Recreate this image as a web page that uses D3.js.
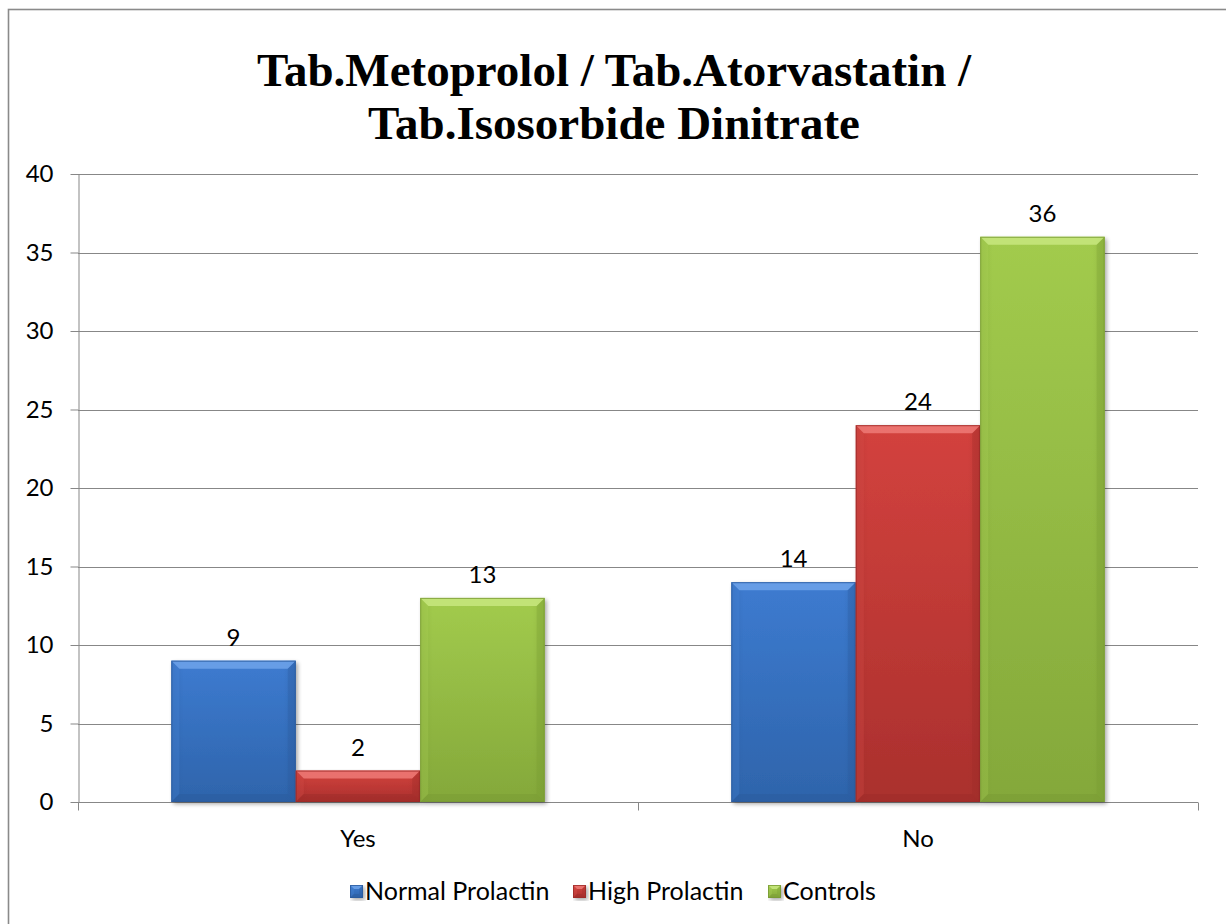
<!DOCTYPE html>
<html>
<head>
<meta charset="utf-8">
<script src="https://cdn.jsdelivr.net/npm/d3@7"></script>
<style>
  html, body { margin: 0; padding: 0; background: #fff; }
  svg { display: block; }
</style>
</head>
<body>
<svg id="chart" width="1226" height="924"></svg>
<script>
// Chart data
const titleLines = ["Tab.Metoprolol / Tab.Atorvastatin /", "Tab.Isosorbide Dinitrate"];
const categories = ["Yes", "No"];
const seriesNames = ["Normal Prolactin", "High Prolactin", "Controls"];
const normalProlactin = [9, 14];
const highProlactin = [2, 24];
const controls = [13, 36];
const yTicks = [0, 5, 10, 15, 20, 25, 30, 35, 40];

const seriesValues = [normalProlactin, highProlactin, controls];
const palette = [
  { top: "#4a8ae0", mid: "#3d7bd0", bot: "#2e64ab", edge: "#2a5a9c", light: "#6fa3ea" },
  { top: "#e05350", mid: "#d3423e", bot: "#aa302d", edge: "#9c2b28", light: "#ee7a77" },
  { top: "#afd65c", mid: "#a2cb4d", bot: "#84a83a", edge: "#789a33", light: "#c8e77f" }
];
const labelFont = "Lato, 'Liberation Sans', sans-serif";
const labelSize = 24;

const svg = d3.select("#chart");
const plot = { left: 78, right: 1198, top: 174, bottom: 802 };

// Outer chart frame
svg.append("rect")
  .attr("x", 8.5).attr("y", 9.5)
  .attr("width", 1400).attr("height", 1100)
  .attr("fill", "none").attr("stroke", "#8a8a8a").attr("stroke-width", 1.6);

// Gradients
const defs = svg.append("defs");
palette.forEach((c, i) => {
  const g = defs.append("linearGradient").attr("id", "grad" + i)
    .attr("x1", 0).attr("y1", 0).attr("x2", 0).attr("y2", 1);
  g.append("stop").attr("offset", "0%").attr("stop-color", c.mid);
  g.append("stop").attr("offset", "100%").attr("stop-color", c.bot);
  const h = defs.append("linearGradient").attr("id", "hgrad" + i)
    .attr("x1", 0).attr("y1", 0).attr("x2", 1).attr("y2", 0);
  h.append("stop").attr("offset", "0%").attr("stop-color", c.edge).attr("stop-opacity", 0.3);
  h.append("stop").attr("offset", "10%").attr("stop-color", c.edge).attr("stop-opacity", 0);
  h.append("stop").attr("offset", "90%").attr("stop-color", c.edge).attr("stop-opacity", 0);
  h.append("stop").attr("offset", "100%").attr("stop-color", c.edge).attr("stop-opacity", 0.3);
});
const shadow = defs.append("filter").attr("id", "shadow")
  .attr("x", "-10%").attr("y", "-10%").attr("width", "130%").attr("height", "130%");
shadow.append("feGaussianBlur").attr("in", "SourceAlpha").attr("stdDeviation", 2).attr("result", "b");
shadow.append("feOffset").attr("in", "b").attr("dx", 2).attr("dy", 2).attr("result", "o");
shadow.append("feComponentTransfer").attr("in", "o").attr("result", "s")
  .append("feFuncA").attr("type", "linear").attr("slope", 0.35);
const merge = shadow.append("feMerge");
merge.append("feMergeNode").attr("in", "s");
merge.append("feMergeNode").attr("in", "SourceGraphic");

// Scales
const x = d3.scaleBand().domain(categories).range([plot.left, plot.right]).padding(0);
const bw = x.bandwidth() / 4.5;
const xs = d3.scaleBand().domain(seriesNames).range([0.75 * bw, 3.75 * bw]).padding(0);
const y = d3.scaleLinear().domain([0, 40]).range([plot.bottom, plot.top]);

// Gridlines
svg.append("g")
  .selectAll("line").data(yTicks.filter(t => t > 0)).join("line")
  .attr("x1", plot.left).attr("x2", plot.right)
  .attr("y1", d => Math.round(y(d)) + 0.5).attr("y2", d => Math.round(y(d)) + 0.5)
  .attr("stroke", "#878787").attr("stroke-width", 1);

// Y axis
const yAxis = svg.append("g")
  .attr("transform", `translate(${plot.left + 0.5},0)`)
  .call(d3.axisLeft(y).tickValues(yTicks).tickSize(8).tickPadding(17).tickSizeOuter(0));
yAxis.select(".domain").attr("stroke", "#878787");
yAxis.selectAll(".tick line").attr("stroke", "#878787");
yAxis.selectAll(".tick text")
  .attr("font-family", labelFont)
  .attr("font-size", labelSize).attr("fill", "#000");

// X axis
const xAxisG = svg.append("g").attr("transform", `translate(0,${Math.round(y(0)) + 0.5})`);
xAxisG.append("line").attr("x1", plot.left).attr("x2", plot.right)
  .attr("stroke", "#878787");
const xTickPositions = [plot.left, ...categories.map(c => x(c) + x.bandwidth())];
xAxisG.selectAll("line.tk").data(xTickPositions).join("line").attr("class", "tk")
  .attr("x1", d => Math.round(d) + 0.5).attr("x2", d => Math.round(d) + 0.5)
  .attr("y1", 0).attr("y2", 8).attr("stroke", "#878787");
xAxisG.selectAll("text").data(categories).join("text")
  .attr("x", d => x(d) + x.bandwidth() / 2).attr("y", 44)
  .attr("text-anchor", "middle")
  .attr("font-family", labelFont)
  .attr("font-size", labelSize).attr("fill", "#000")
  .text(d => d);

// Bars with bevel
function drawBevelBar(g, x0, y0, w, h, i, bev) {
  const c = palette[i];
  const b = Math.min(bev, h / 2, w / 2);
  g.append("rect").attr("x", x0).attr("y", y0).attr("width", w).attr("height", h)
    .attr("fill", `url(#grad${i})`).attr("filter", "url(#shadow)");
  g.append("rect").attr("x", x0).attr("y", y0).attr("width", w).attr("height", h)
    .attr("fill", `url(#hgrad${i})`);
  // top bevel
  g.append("polygon")
    .attr("points", [[x0, y0], [x0 + w, y0], [x0 + w - b, y0 + b], [x0 + b, y0 + b]].join(" "))
    .attr("fill", c.light).attr("opacity", 0.85);
  // left bevel
  g.append("polygon")
    .attr("points", [[x0, y0], [x0 + b, y0 + b], [x0 + b, y0 + h - b], [x0, y0 + h]].join(" "))
    .attr("fill", c.top).attr("opacity", 0.25);
  // right bevel
  g.append("polygon")
    .attr("points", [[x0 + w, y0], [x0 + w - b, y0 + b], [x0 + w - b, y0 + h - b], [x0 + w, y0 + h]].join(" "))
    .attr("fill", c.edge).attr("opacity", 0.3);
  // bottom bevel
  g.append("polygon")
    .attr("points", [[x0, y0 + h], [x0 + b, y0 + h - b], [x0 + w - b, y0 + h - b], [x0 + w, y0 + h]].join(" "))
    .attr("fill", c.edge).attr("opacity", 0.45);
  g.append("rect").attr("x", x0 + 0.5).attr("y", y0 + 0.5).attr("width", w - 1).attr("height", h - 1)
    .attr("fill", "none").attr("stroke", c.edge).attr("stroke-width", 1).attr("opacity", 0.8);
}

const barsG = svg.append("g");
seriesNames.forEach((s, si) => {
  categories.forEach((cat, ci) => {
    const v = seriesValues[si][ci];
    const x0 = x(cat) + xs(s);
    const y0 = y(v);
    drawBevelBar(barsG, x0, y0, xs.bandwidth(), y(0) - y0, si, 8);
    barsG.append("text")
      .attr("x", x0 + xs.bandwidth() / 2).attr("y", y0 - 15)
      .attr("text-anchor", "middle")
      .attr("font-family", labelFont)
      .attr("font-size", labelSize).attr("fill", "#000")
      .text(v);
  });
});

// Title
svg.append("text")
  .attr("x", 614).attr("text-anchor", "middle")
  .attr("font-family", "'Liberation Serif', 'Times New Roman', serif")
  .attr("font-weight", "bold").attr("font-size", 47).attr("fill", "#000")
  .selectAll("tspan").data(titleLines).join("tspan")
  .attr("x", 614).attr("y", (d, i) => 86 + i * 53)
  .text(d => d);

// Legend
const legendX = [350, 573, 768];
const legendG = svg.append("g");
seriesNames.forEach((s, i) => {
  const g = legendG.append("g");
  drawBevelBar(g, legendX[i], 885, 13, 13, i, 4);
  g.append("text")
    .attr("x", legendX[i] + 15).attr("y", 900)
    .attr("font-family", labelFont)
    .attr("font-size", 25).attr("fill", "#000")
    .text(s);
});
</script>
</body>
</html>
